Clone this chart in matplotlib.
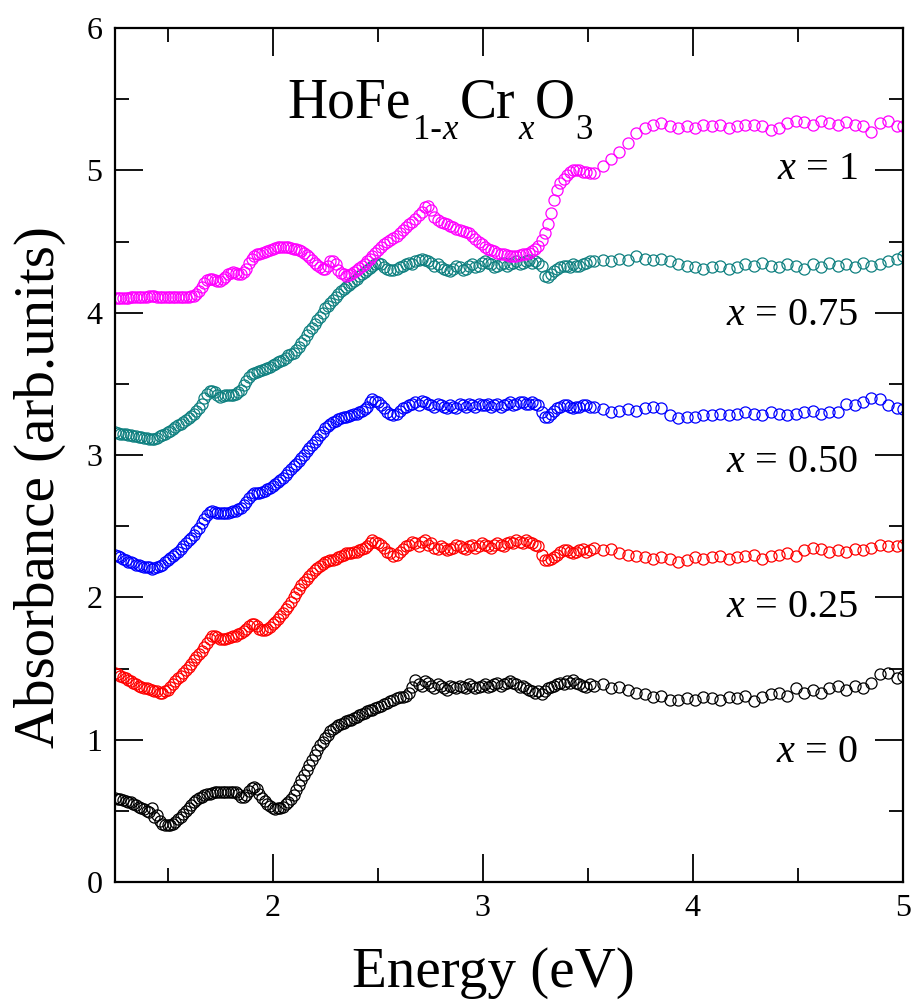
import matplotlib
matplotlib.use("Agg")
import matplotlib.pyplot as plt
from matplotlib.ticker import MultipleLocator

plt.rcParams['font.family'] = ['Liberation Serif', 'DejaVu Serif']
plt.rcParams['mathtext.fontset'] = 'custom'
plt.rcParams['mathtext.rm'] = 'Liberation Serif'
plt.rcParams['mathtext.it'] = 'Liberation Serif:italic'

# ---------------- data ----------------
energy = [
    1.2500, 1.2625, 1.2750, 1.2875, 1.3000, 1.3125, 1.3250, 1.3375, 1.3500, 1.3625,
    1.3750, 1.3875, 1.4000, 1.4125, 1.4250, 1.4375, 1.4500, 1.4625, 1.4750, 1.4875,
    1.5000, 1.5125, 1.5250, 1.5375, 1.5500, 1.5625, 1.5750, 1.5875, 1.6000, 1.6125,
    1.6250, 1.6375, 1.6500, 1.6625, 1.6750, 1.6875, 1.7000, 1.7125, 1.7250, 1.7375,
    1.7500, 1.7625, 1.7750, 1.7875, 1.8000, 1.8125, 1.8250, 1.8375, 1.8500, 1.8625,
    1.8750, 1.8875, 1.9000, 1.9125, 1.9250, 1.9375, 1.9500, 1.9625, 1.9750, 1.9875,
    2.0000, 2.0125, 2.0250, 2.0375, 2.0500, 2.0625, 2.0750, 2.0875, 2.1000, 2.1125,
    2.1250, 2.1375, 2.1500, 2.1625, 2.1750, 2.1875, 2.2000, 2.2125, 2.2250, 2.2375,
    2.2500, 2.2625, 2.2750, 2.2875, 2.3000, 2.3125, 2.3250, 2.3375, 2.3500, 2.3625,
    2.3750, 2.3875, 2.4000, 2.4125, 2.4250, 2.4375, 2.4500, 2.4625, 2.4750, 2.4875,
    2.5000,
    2.515, 2.530, 2.545, 2.560, 2.575, 2.590, 2.605, 2.620, 2.635, 2.650,
    2.665, 2.680, 2.695, 2.710, 2.725, 2.740, 2.755, 2.770, 2.785, 2.800,
    2.815, 2.830, 2.845, 2.860, 2.875, 2.890, 2.905, 2.920, 2.935, 2.950,
    2.965, 2.980, 2.995, 3.010, 3.025, 3.040, 3.055, 3.070, 3.085, 3.100,
    3.115, 3.130, 3.145, 3.160, 3.175, 3.190, 3.205, 3.220, 3.235, 3.250,
    3.265, 3.280, 3.295, 3.310, 3.325, 3.340, 3.355, 3.370, 3.385, 3.400,
    3.415, 3.430, 3.445, 3.460, 3.475, 3.490, 3.510,
    3.53, 3.57, 3.61, 3.65, 3.69, 3.73, 3.77, 3.81, 3.85, 3.89,
    3.93, 3.97, 4.01, 4.05, 4.09, 4.13, 4.17, 4.21, 4.25, 4.29,
    4.33, 4.37, 4.41, 4.45, 4.49, 4.53, 4.57, 4.61, 4.65, 4.69,
    4.73, 4.77, 4.81, 4.85, 4.89, 4.93, 4.97, 5.00,
]

abs_x0 = [
    0.59, 0.585, 0.58, 0.575, 0.57, 0.565, 0.56, 0.55, 0.54, 0.53,
    0.52, 0.51, 0.50, 0.49, 0.52, 0.46, 0.47, 0.43, 0.41, 0.40,
    0.40, 0.40, 0.41, 0.425, 0.44, 0.46, 0.48, 0.50, 0.52, 0.54,
    0.56, 0.575, 0.59, 0.60, 0.61, 0.615, 0.62, 0.625, 0.63, 0.633,
    0.635, 0.635, 0.635, 0.635, 0.635, 0.633, 0.63, 0.615, 0.60, 0.60,
    0.61, 0.64, 0.66, 0.665, 0.65, 0.62, 0.59, 0.57, 0.55, 0.535,
    0.52, 0.515, 0.52, 0.52, 0.53, 0.545, 0.56, 0.585, 0.61, 0.645,
    0.68, 0.715, 0.75, 0.785, 0.82, 0.855, 0.89, 0.925, 0.96, 0.985,
    1.01, 1.035, 1.06, 1.075, 1.09, 1.10, 1.11, 1.12, 1.13, 1.135,
    1.14, 1.15, 1.16, 1.17, 1.18, 1.19, 1.20, 1.205, 1.21, 1.22,
    1.23,
    1.24, 1.25, 1.26, 1.27, 1.28, 1.29, 1.30, 1.30, 1.31, 1.33,
    1.37, 1.42, 1.39, 1.38, 1.41, 1.40, 1.38, 1.36, 1.39, 1.38,
    1.36, 1.35, 1.38, 1.37, 1.36, 1.38, 1.37, 1.36, 1.39, 1.38,
    1.36, 1.37, 1.38, 1.39, 1.37, 1.38, 1.39, 1.40, 1.38, 1.39,
    1.40, 1.41, 1.40, 1.39, 1.37, 1.38, 1.36, 1.35, 1.34, 1.33,
    1.34, 1.32, 1.34, 1.36, 1.37, 1.38, 1.39, 1.40, 1.39, 1.41,
    1.40, 1.42, 1.40, 1.39, 1.38, 1.37, 1.39,
    1.38, 1.39, 1.36, 1.37, 1.35, 1.33, 1.32, 1.30, 1.31, 1.28,
    1.28, 1.29, 1.28, 1.30, 1.29, 1.28, 1.30, 1.29, 1.31, 1.27,
    1.30, 1.32, 1.33, 1.31, 1.36, 1.33, 1.35, 1.33, 1.36, 1.38,
    1.35, 1.38, 1.36, 1.40, 1.46, 1.47, 1.43, 1.45,
]

abs_x025 = [
    1.47, 1.46, 1.45, 1.44, 1.43, 1.42, 1.41, 1.40, 1.39, 1.38,
    1.37, 1.365, 1.36, 1.355, 1.35, 1.345, 1.34, 1.33, 1.33, 1.34,
    1.35, 1.37, 1.39, 1.41, 1.43, 1.45, 1.47, 1.49, 1.51, 1.535,
    1.56, 1.58, 1.60, 1.625, 1.65, 1.68, 1.71, 1.725, 1.73, 1.72,
    1.71, 1.705, 1.71, 1.715, 1.72, 1.725, 1.73, 1.74, 1.75, 1.765,
    1.78, 1.80, 1.81, 1.815, 1.80, 1.78, 1.77, 1.77, 1.78, 1.79,
    1.81, 1.83, 1.85, 1.87, 1.89, 1.915, 1.94, 1.97, 2.00, 2.03,
    2.06, 2.085, 2.11, 2.13, 2.15, 2.17, 2.19, 2.205, 2.22, 2.235,
    2.25, 2.255, 2.26, 2.265, 2.27, 2.28, 2.29, 2.30, 2.31, 2.31,
    2.31, 2.32, 2.32, 2.33, 2.34, 2.35, 2.36, 2.38, 2.40, 2.39,
    2.38,
    2.37, 2.35, 2.32, 2.31, 2.29, 2.30, 2.32, 2.34, 2.36, 2.37,
    2.39, 2.38, 2.36, 2.39, 2.40, 2.37, 2.38, 2.35, 2.34, 2.36,
    2.35, 2.33, 2.34, 2.35, 2.37, 2.36, 2.35, 2.34, 2.36, 2.37,
    2.35, 2.36, 2.38, 2.37, 2.36, 2.35, 2.37, 2.38, 2.37, 2.36,
    2.38, 2.39, 2.38, 2.40, 2.39, 2.38, 2.40, 2.39, 2.38, 2.37,
    2.36, 2.30, 2.26, 2.26, 2.27, 2.28, 2.30, 2.32, 2.33, 2.33,
    2.32, 2.31, 2.32, 2.33, 2.34, 2.32, 2.33,
    2.35, 2.33, 2.34, 2.31, 2.30, 2.29, 2.28, 2.27, 2.28, 2.27,
    2.25, 2.26, 2.28, 2.27, 2.28, 2.29, 2.27, 2.28, 2.29, 2.30,
    2.27, 2.29, 2.30, 2.31, 2.29, 2.33, 2.35, 2.34, 2.32, 2.33,
    2.32, 2.34, 2.33, 2.35, 2.37, 2.36, 2.36, 2.37,
]

abs_x050 = [
    2.30, 2.29, 2.28, 2.27, 2.26, 2.25, 2.245, 2.24, 2.23, 2.225,
    2.22, 2.215, 2.215, 2.21, 2.20, 2.205, 2.21, 2.22, 2.23, 2.245,
    2.26, 2.275, 2.29, 2.305, 2.32, 2.34, 2.36, 2.38, 2.40, 2.42,
    2.44, 2.465, 2.49, 2.52, 2.55, 2.58, 2.60, 2.605, 2.60, 2.595,
    2.59, 2.59, 2.59, 2.595, 2.60, 2.605, 2.61, 2.62, 2.63, 2.65,
    2.67, 2.70, 2.72, 2.73, 2.73, 2.735, 2.74, 2.75, 2.76, 2.77,
    2.78, 2.795, 2.81, 2.825, 2.84, 2.86, 2.88, 2.90, 2.92, 2.94,
    2.96, 2.98, 3.00, 3.025, 3.05, 3.07, 3.09, 3.115, 3.14, 3.165,
    3.19, 3.205, 3.22, 3.23, 3.24, 3.25, 3.26, 3.265, 3.27, 3.275,
    3.28, 3.285, 3.29, 3.30, 3.31, 3.32, 3.34, 3.37, 3.39, 3.38,
    3.37,
    3.35, 3.33, 3.30, 3.29, 3.28, 3.29, 3.31, 3.33, 3.34, 3.35,
    3.36, 3.37, 3.35, 3.38, 3.37, 3.36, 3.35, 3.34, 3.36, 3.35,
    3.34, 3.33, 3.35, 3.34, 3.33, 3.36, 3.35, 3.34, 3.36, 3.35,
    3.34, 3.36, 3.35, 3.35, 3.36, 3.34, 3.35, 3.36, 3.34, 3.35,
    3.36, 3.37, 3.35, 3.36, 3.37, 3.37, 3.36, 3.36, 3.37, 3.36,
    3.35, 3.30, 3.27, 3.27, 3.29, 3.31, 3.33, 3.34, 3.35, 3.35,
    3.34, 3.33, 3.34, 3.34, 3.35, 3.35, 3.34,
    3.34, 3.32, 3.30, 3.31, 3.32, 3.31, 3.33, 3.34, 3.33, 3.28,
    3.26, 3.27, 3.27, 3.28, 3.28, 3.29, 3.28, 3.29, 3.30, 3.29,
    3.28, 3.30, 3.29, 3.28, 3.29, 3.30, 3.31, 3.29, 3.30, 3.30,
    3.36, 3.35, 3.37, 3.40, 3.39, 3.35, 3.33, 3.32,
]

abs_x075 = [
    3.16, 3.155, 3.15, 3.148, 3.145, 3.142, 3.14, 3.135, 3.13, 3.128,
    3.125, 3.122, 3.12, 3.115, 3.11, 3.11, 3.12, 3.13, 3.14, 3.15,
    3.16, 3.17, 3.18, 3.195, 3.21, 3.22, 3.23, 3.245, 3.26, 3.275,
    3.29, 3.31, 3.33, 3.36, 3.40, 3.43, 3.45, 3.45, 3.44, 3.42,
    3.41, 3.415, 3.42, 3.42, 3.42, 3.425, 3.43, 3.44, 3.46, 3.49,
    3.52, 3.55, 3.57, 3.575, 3.58, 3.59, 3.60, 3.605, 3.61, 3.62,
    3.63, 3.64, 3.65, 3.66, 3.67, 3.685, 3.70, 3.71, 3.72, 3.74,
    3.76, 3.785, 3.81, 3.84, 3.87, 3.895, 3.92, 3.945, 3.97, 4.00,
    4.03, 4.05, 4.07, 4.09, 4.11, 4.13, 4.15, 4.165, 4.18, 4.195,
    4.21, 4.225, 4.24, 4.255, 4.27, 4.285, 4.30, 4.315, 4.33, 4.34,
    4.35,
    4.34, 4.32, 4.31, 4.30, 4.30, 4.31, 4.32, 4.33, 4.34, 4.35,
    4.34, 4.36, 4.37, 4.38, 4.37, 4.36, 4.35, 4.33, 4.34, 4.32,
    4.31, 4.30, 4.29, 4.31, 4.33, 4.32, 4.30, 4.31, 4.33, 4.34,
    4.32, 4.33, 4.35, 4.36, 4.35, 4.34, 4.32, 4.33, 4.34, 4.35,
    4.33, 4.34, 4.35, 4.36, 4.34, 4.35, 4.36, 4.37, 4.35, 4.36,
    4.35, 4.33, 4.26, 4.25, 4.27, 4.29, 4.31, 4.32, 4.33, 4.33,
    4.32, 4.34, 4.33, 4.33, 4.34, 4.35, 4.36,
    4.36, 4.37, 4.36, 4.38, 4.37, 4.40, 4.38, 4.37, 4.38, 4.36,
    4.34, 4.33, 4.32, 4.31, 4.32, 4.33, 4.31, 4.32, 4.34, 4.33,
    4.35, 4.33, 4.32, 4.34, 4.33, 4.31, 4.34, 4.32, 4.35, 4.33,
    4.34, 4.32, 4.35, 4.33, 4.34, 4.36, 4.38, 4.40,
]

abs_x1 = [
    4.10, 4.10, 4.10, 4.10, 4.10, 4.105, 4.11, 4.11, 4.11, 4.11,
    4.11, 4.11, 4.11, 4.115, 4.12, 4.115, 4.11, 4.11, 4.11, 4.11,
    4.11, 4.11, 4.11, 4.11, 4.11, 4.11, 4.11, 4.11, 4.11, 4.115,
    4.12, 4.13, 4.15, 4.18, 4.21, 4.23, 4.24, 4.24, 4.23, 4.225,
    4.22, 4.235, 4.25, 4.27, 4.28, 4.285, 4.28, 4.27, 4.27, 4.285,
    4.31, 4.35, 4.38, 4.40, 4.41, 4.415, 4.42, 4.425, 4.43, 4.44,
    4.45, 4.455, 4.46, 4.46, 4.46, 4.46, 4.46, 4.455, 4.45, 4.445,
    4.44, 4.43, 4.42, 4.405, 4.39, 4.37, 4.35, 4.335, 4.32, 4.31,
    4.31, 4.33, 4.36, 4.36, 4.34, 4.30, 4.28, 4.27, 4.26, 4.265,
    4.27, 4.285, 4.30, 4.315, 4.33, 4.345, 4.36, 4.38, 4.40, 4.42,
    4.44,
    4.46, 4.48, 4.495, 4.51, 4.525, 4.54, 4.56, 4.58, 4.60, 4.62,
    4.64, 4.66, 4.685, 4.71, 4.74, 4.75, 4.72, 4.67, 4.65, 4.64,
    4.63, 4.62, 4.61, 4.60, 4.59, 4.58, 4.575, 4.57, 4.56, 4.54,
    4.52, 4.50, 4.48, 4.46, 4.45, 4.44, 4.43, 4.42, 4.415, 4.41,
    4.405, 4.40, 4.40, 4.40, 4.405, 4.41, 4.415, 4.42, 4.43, 4.45,
    4.47, 4.51, 4.56, 4.62, 4.70, 4.79, 4.86, 4.91, 4.94, 4.97,
    4.99, 5.00, 5.00, 5.00, 4.99, 4.99, 4.98,
    4.98, 5.03, 5.08, 5.13, 5.19, 5.26, 5.30, 5.32, 5.33, 5.31,
    5.30, 5.31, 5.30, 5.32, 5.31, 5.32, 5.30, 5.31, 5.32, 5.32,
    5.31, 5.28, 5.30, 5.33, 5.35, 5.34, 5.32, 5.35, 5.33, 5.32,
    5.34, 5.32, 5.31, 5.27, 5.33, 5.35, 5.31, 5.31,
]

series_values = [abs_x0, abs_x025, abs_x050, abs_x075, abs_x1]
series_labels = ["0", "0.25", "0.50", "0.75", "1"]
series_colors = ["black", "#ff0000", "#0000ff", "#0f8080", "#ff00ff"]

x_ticks = [2, 3, 4, 5]
y_ticks = [0, 1, 2, 3, 4, 5, 6]

# ---------------- figure ----------------
W, H = 914, 1002
fig = plt.figure(figsize=(W / 100, H / 100), dpi=100)
ax = fig.add_axes([115 / W, 1 - 882 / H, 788 / W, 854 / H])


def fx(px):
    return px / W


def fy(py):
    return 1 - py / H


for vals, col in zip(series_values, series_colors):
    ax.plot(energy, vals, linestyle='none', marker='o', markersize=8.0,
            markerfacecolor='none', markeredgecolor=col, markeredgewidth=0.9)

ax.set_xlim(1.25, 5.0)
ax.set_ylim(0, 6)
ax.set_xticks(x_ticks)
ax.set_yticks(y_ticks)
ax.xaxis.set_minor_locator(MultipleLocator(0.5))
ax.yaxis.set_minor_locator(MultipleLocator(0.5))
ax.tick_params(which='both', direction='in', top=True, right=True, width=1.3)
ax.tick_params(which='major', length=20)
ax.tick_params(which='minor', length=10)
ax.tick_params(axis='x', which='major', labelsize=23, pad=9)
ax.tick_params(axis='y', which='major', labelsize=23, pad=9)
for sp in ax.spines.values():
    sp.set_linewidth(1.6)

# axis labels
fig.text(fx(493), fy(987), "Energy (eV)", fontsize=41, ha='center', va='baseline')
fig.text(fx(40), fy(487), "Absorbance (arb.units)", fontsize=41, rotation=90,
         ha='center', va='center')

# series labels
label_baselines = [762, 617, 472, 325, 179]
for lab, yb in zip(series_labels, label_baselines):
    fig.text(fx(858), fy(yb), r"$x$ = " + lab, fontsize=29, ha='right', va='baseline')

# title HoFe_{1-x}Cr_xO_3 built from pieces
renderer = fig.canvas.get_renderer()
pieces = [
    ("HoFe", 40, 'normal', 0, 3),
    ("1-", 25, 'normal', 1, 0),
    ("x", 25, 'italic', 1, 2),
    ("Cr", 40, 'normal', 0, 3),
    ("x", 25, 'italic', 1, 1),
    ("O", 40, 'normal', 0, 1),
    ("3", 25, 'normal', 1, 0),
]
xcur = 287
for txt, size, style, sub, gap in pieces:
    yb = 139 if sub else 117
    t = fig.text(fx(xcur), fy(yb), txt, fontsize=size, style=style,
                 ha='left', va='baseline')
    bb = t.get_window_extent(renderer)
    xcur = bb.x1 + gap

fig.savefig("out.png", dpi=100)
